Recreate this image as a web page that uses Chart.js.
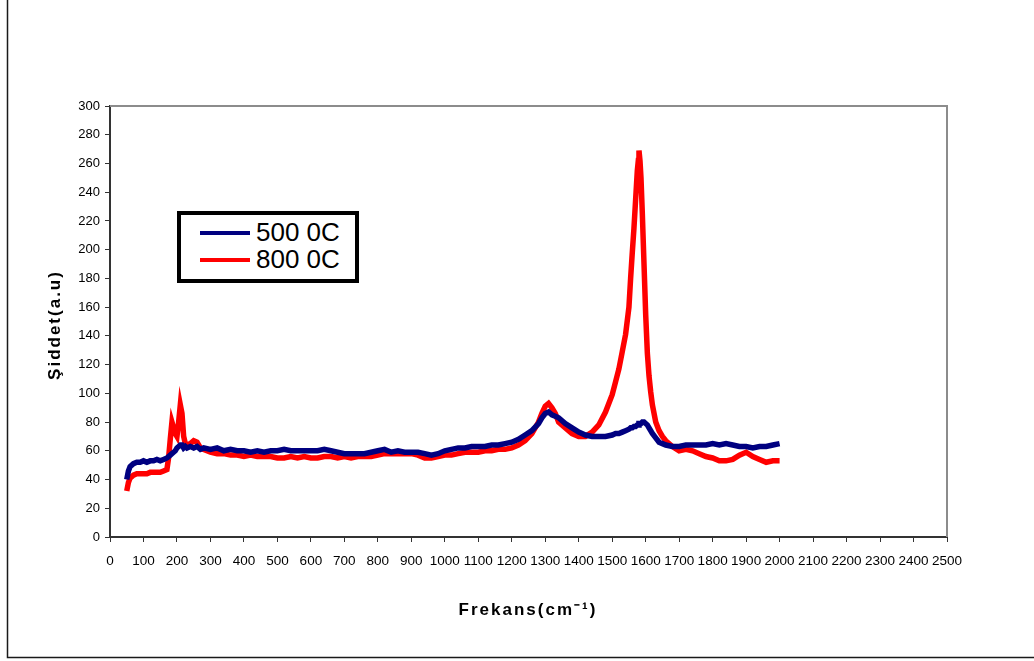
<!DOCTYPE html>
<html>
<head>
<meta charset="utf-8">
<script src="https://cdn.jsdelivr.net/npm/chart.js@4"></script>
<style>
  html, body { margin: 0; padding: 0; background: #fff; }
  #wrap { position: relative; width: 1034px; height: 661px; }
  #legend { position: absolute; left: 177px; top: 211px; width: 174px; height: 64px; border: 4px solid #000; background: #fff;
            font-family: "Liberation Sans", Arial, sans-serif; font-size: 26px; color: #000; }
  .row { position: absolute; left: 0; height: 27px; line-height: 27px; white-space: nowrap; }
  .sw { position: absolute; left: 19px; top: 12px; width: 50px; height: 4px; }
  .lbl { position: absolute; left: 75px; top: 0; }
</style>
</head>
<body>
<div id="wrap">
  <canvas id="c" width="1034" height="661"></canvas>
  <div id="legend">
    <div class="row" style="top:4px"><div class="sw" style="background:#000080"></div><div class="lbl">500 0C</div></div>
    <div class="row" style="top:31px"><div class="sw" style="background:#ff0000"></div><div class="lbl">800 0C</div></div>
  </div>
</div>
<script>
const seriesNames = ["500 0C", "800 0C"];
const freq = [
  50,55,60,70,80,90,100,110,120,130,
  140,150,160,170,175,180,185,190,195,200,
  205,210,215,220,225,230,240,250,260,270,
  280,300,320,340,360,380,400,420,440,460,
  480,500,520,540,560,580,600,620,640,660,
  680,700,720,740,760,780,800,820,840,860,
  880,900,920,940,960,980,1000,1020,1040,1060,
  1080,1100,1120,1140,1160,1180,1200,1220,1240,1260,
  1280,1290,1300,1310,1320,1330,1340,1360,1380,1400,
  1420,1440,1460,1480,1500,1510,1520,1530,1540,1550,
  1555,1560,1565,1570,1575,1578,1580,1583,1586,1590,
  1595,1600,1605,1610,1615,1620,1630,1640,1650,1660,
  1680,1700,1720,1740,1760,1780,1800,1820,1840,1860,
  1880,1900,1920,1940,1960,1980,2000
];
const s500 = [
  40,46,49,51,52,52,53,52,53,53,
  54,53,54,55,56,57,58,59,60,62,
  63,64,64,62,63,62,63,62,63,61,
  62,61,62,60,61,60,60,59,60,59,
  60,60,61,60,60,60,60,60,61,60,
  59,58,58,58,58,59,60,61,59,60,
  59,59,59,58,57,58,60,61,62,62,
  63,63,63,64,64,65,66,68,71,74,
  79,83,86,87,85,84,83,79,76,73,
  71,70,70,70,71,72,72,73,74,75,
  76,76,77,77,78,78,79,79,79,80,
  80,79,78,76,74,72,69,66,65,64,
  63,63,64,64,64,64,65,64,65,64,
  63,63,62,63,63,64,65
];
const s800 = [
  32,38,41,43,44,44,44,44,45,45,
  45,45,46,47,55,68,80,76,72,70,
  80,92,86,70,65,64,65,67,66,62,
  61,59,58,58,57,57,56,57,56,56,
  56,55,55,56,55,56,55,55,56,56,
  55,56,55,56,56,56,57,58,58,58,
  58,58,57,55,55,56,57,57,58,59,
  59,59,60,60,61,61,62,64,67,72,
  80,86,91,93,90,86,80,76,72,70,
  70,73,78,87,99,108,117,129,141,160,
  180,198,215,235,255,262,269,262,250,225,
  190,155,128,112,101,92,80,74,70,67,
  63,60,61,60,58,56,55,53,53,54,
  57,59,56,54,52,53,53
];
const xTickMin = 0, xTickMax = 2500, xTickStep = 100;
const yTickMin = 0, yTickMax = 300, yTickStep = 20;
const xTitle = "Frekans(cm\u207B\u00B9)";
const yTitle = "Şiddet(a.u)";

const pts = (ys) => freq.map((x, i) => ({ x: x, y: ys[i] }));

const framePlugin = {
  id: 'frame',
  beforeDraw(chart) {
    const ctx = chart.ctx;
    ctx.save();
    ctx.fillStyle = '#fff';
    ctx.fillRect(0, 0, chart.width, chart.height);
    ctx.strokeStyle = '#1a1a1a';
    ctx.lineWidth = 1.5;
    ctx.beginPath();
    ctx.moveTo(7.5, 0);
    ctx.lineTo(7.5, 657.5);
    ctx.lineTo(chart.width, 657.5);
    ctx.stroke();
    ctx.restore();
  },
  afterDraw(chart) {
    const a = chart.chartArea, ctx = chart.ctx;
    ctx.save();
    ctx.strokeStyle = '#8c8c8c';
    ctx.lineWidth = 2;
    ctx.beginPath();
    ctx.moveTo(a.left, a.top);
    ctx.lineTo(a.right, a.top);
    ctx.lineTo(a.right, a.bottom);
    ctx.stroke();
    // axis titles (letter-spaced, as in the reference)
    ctx.fillStyle = '#000';
    ctx.font = "bold 17px 'Liberation Sans', Arial, sans-serif";
    ctx.textAlign = 'center';
    ctx.textBaseline = 'middle';
    try { ctx.letterSpacing = '2px'; } catch (e) {}
    ctx.fillText(xTitle, 528, 610);
    ctx.translate(55, 325);
    ctx.rotate(-Math.PI / 2);
    ctx.fillText(yTitle, 0, 0);
    ctx.restore();
  }
};

const tickFontX = { family: "'Liberation Sans', Arial, sans-serif", size: 13.5 };
const tickFontY = { family: "'Liberation Sans', Arial, sans-serif", size: 13 };
const fmt = (v) => String(v);

new Chart(document.getElementById('c'), {
  type: 'line',
  data: {
    datasets: [
      { label: seriesNames[0], data: pts(s500), borderColor: '#000080', backgroundColor: '#000080', borderWidth: 5.5, pointRadius: 0, tension: 0 },
      { label: seriesNames[1], data: pts(s800), borderColor: '#ff0000', backgroundColor: '#ff0000', borderWidth: 5.5, pointRadius: 0, tension: 0 }
    ]
  },
  options: {
    responsive: false,
    devicePixelRatio: 1,
    animation: false,
    layout: { padding: { left: 0, top: 106, right: 87, bottom: 0 } },
    plugins: { legend: { display: false }, tooltip: { enabled: false } },
    scales: {
      x: {
        type: 'linear', min: xTickMin, max: xTickMax,
        afterFit(s) { s.height = 124; },
        ticks: { stepSize: xTickStep, autoSkip: false, maxRotation: 0, color: '#000', font: tickFontX, padding: 11, callback: fmt },
        grid: { drawOnChartArea: false, drawTicks: true, tickLength: 5, color: '#333', tickWidth: 1 },
        border: { display: true, color: '#333', width: 2 }
      },
      y: {
        type: 'linear', min: yTickMin, max: yTickMax,
        afterFit(s) { s.width = 110; },
        ticks: { stepSize: yTickStep, color: '#000', font: tickFontY, padding: 5, callback: fmt },
        grid: { drawOnChartArea: false, drawTicks: true, tickLength: 5, color: '#333', tickWidth: 1 },
        border: { display: true, color: '#333', width: 2 }
      }
    }
  },
  plugins: [framePlugin]
});
</script>
</body>
</html>
